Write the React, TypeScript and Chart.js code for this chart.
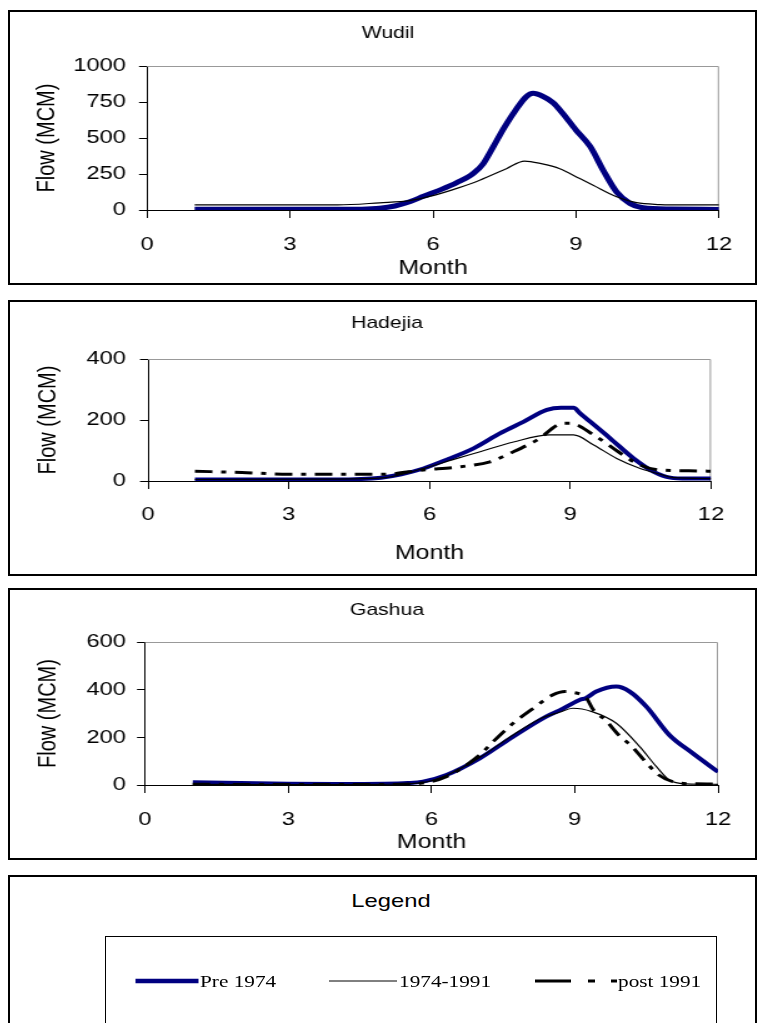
import React, { useEffect, useRef } from "react";
import { Chart, registerables } from "chart.js";

Chart.register(...registerables);

// ---------------- data ----------------
const xTickLabels = [0, 3, 6, 9, 12];
const seriesNames = ["Pre 1974", "1974-1991", "post 1991"];

// Wudil
const wudilPreMonth = [1, 2, 3, 4, 4.5, 4.88, 5.2, 5.51, 5.8, 6.14, 6.5, 6.84, 7.05, 7.26, 7.5, 7.75, 7.95, 8.1, 8.3, 8.52, 8.7, 9.0, 9.3, 9.57, 9.85, 10.13, 10.41, 11, 12];
const wudilPreFlow = [5, 5, 5, 5, 6, 12, 28, 57, 95, 138, 190, 253, 320, 437, 575, 701, 785, 810, 790, 745, 680, 555, 440, 276, 126, 46, 15, 7, 4];
const wudilMidMonth = [1, 2, 3, 4, 4.88, 5.51, 6.04, 6.5, 6.98, 7.54, 7.92, 8.27, 8.66, 9.08, 9.36, 9.85, 10.27, 10.76, 11, 12];
const wudilMidFlow = [35, 35, 35, 35, 50, 65, 103, 150, 207, 287, 340, 322, 287, 218, 172, 92, 51, 38, 36, 35];

// Hadejia
const hadejiaPreMonth = [1, 2, 3, 4, 4.97, 5.4, 5.87, 6.4, 6.94, 7.5, 8.0, 8.5, 8.8, 9.07, 9.21, 9.85, 10.35, 10.78, 11.13, 11.5, 12];
const hadejiaPreFlow = [5, 5, 5, 5, 11, 22, 41, 72, 107, 156, 194, 233, 240, 240, 222, 140, 74, 30, 11, 8, 8];
const hadejiaMidMonth = [1, 4, 5, 5.87, 6.5, 7.08, 7.79, 8.57, 9.07, 9.5, 9.99, 10.49, 10.92, 11.2, 12];
const hadejiaMidFlow = [5, 6, 10, 41, 70, 96, 128, 151, 151, 118, 74, 41, 22, 11, 8];
const hadejiaPostMonth = [1, 2, 3, 4, 5, 5.87, 6.67, 7.29, 7.79, 8.29, 8.86, 9.0, 9.5, 10.07, 10.49, 10.92, 11.7, 12];
const hadejiaPostFlow = [32, 28, 22, 22, 22, 36, 47, 63, 96, 134, 189, 189, 151, 91, 52, 36, 33, 32];

// Gashua
const gashuaPreMonth = [1, 2, 3, 4, 5, 5.5, 5.82, 6.31, 7.01, 7.71, 8.4, 8.68, 9.1, 9.24, 9.45, 9.87, 10.15, 10.5, 10.98, 11.47, 12];
const gashuaPreFlow = [12, 8, 5, 4, 5, 8, 14, 42, 112, 203, 287, 313, 357, 365, 392, 413, 392, 329, 210, 133, 55];
const gashuaMidMonth = [1, 3, 5, 5.8, 6.31, 7.01, 7.71, 8.3, 8.68, 8.96, 9.36, 9.87, 10.36, 10.71, 10.98, 11.33, 12];
const gashuaMidFlow = [3, 2, 3, 10, 40, 115, 210, 280, 305, 322, 308, 259, 161, 77, 21, 5, 3];
const gashuaPostMonth = [1, 3, 5, 5.8, 6.31, 7.01, 7.29, 7.71, 8.13, 8.54, 8.8, 8.93, 9.24, 9.39, 9.64, 9.92, 10.2, 10.48, 10.76, 11.05, 11.47, 12];
const gashuaPostFlow = [3, 2, 2, 8, 35, 126, 182, 259, 322, 378, 392, 390, 365, 315, 273, 210, 161, 98, 42, 14, 5, 4];

// ---------------- styling ----------------
const STRETCH = 1.25;
const SANS = 'Arial, "Liberation Sans", sans-serif';
const SERIF = '"Times New Roman", "Liberation Serif", serif';
const NAVY = "#000080";
const PANEL_LEFT = 8;
const PANEL_WIDTH = 750;
const TICK_FONT = 19;
const AXIS_TITLE_FONT = 20;

type Series = { month: number[]; flow: number[]; kind: number };

type PanelSpec = {
  title: string;
  top: number;
  height: number;
  area: { L: number; R: number; T: number; B: number };
  titleY: number;
  titleX: number;
  yMax: number;
  yStep: number;
  xTickY: number;
  xTitleY: number;
  yTitleX: number;
  series: Series[];
};

const styleFor = (kind: number, thick: number) => {
  if (kind === 0) return { borderColor: NAVY, borderWidth: thick, borderDash: [] as number[] };
  if (kind === 1) return { borderColor: "#000", borderWidth: 1.2, borderDash: [] as number[] };
  return { borderColor: "#000", borderWidth: 3, borderDash: [14, 7, 4, 7] };
};

function Panel({ spec, thick }: { spec: PanelSpec; thick: number }) {
  const ref = useRef<HTMLCanvasElement | null>(null);
  const cw = Math.round(PANEL_WIDTH / STRETCH);
  useEffect(() => {
    if (!ref.current) return;
    const toX = (px: number) => (px - PANEL_LEFT) / STRETCH;
    const { area } = spec;
    const yWidth = toX(area.L);
    const padRight = cw - toX(area.R);
    const padTop = area.T - spec.top;
    const xHeight = spec.top + spec.height - area.B;
    const yTickLen = 6.4;
    const yTickPad = (area.L - 126) / STRETCH - yTickLen;
    const xTickLen = 8;
    const xTickPad = spec.xTickY - area.B - xTickLen - (TICK_FONT * 1.2) / 2;
    const yTitlePad = toX(spec.yTitleX) - (AXIS_TITLE_FONT * 1.2) / 2;
    const xTitlePad = spec.top + spec.height - spec.xTitleY - (AXIS_TITLE_FONT * 1.2) / 2;

    const datasets = [...spec.series]
      .sort((a, b) => b.kind - a.kind)
      .map((s) => ({
        label: seriesNames[s.kind],
        data: s.month.map((m, i) => ({ x: m, y: s.flow[i] })),
        ...styleFor(s.kind, thick),
        pointRadius: 0,
        fill: false,
        cubicInterpolationMode: "monotone" as const,
        borderJoinStyle: "round" as const,
      }));

    const framePlugin = {
      id: "frame",
      beforeDatasetsDraw(chart: any) {
        const { ctx, chartArea } = chart;
        ctx.save();
        ctx.strokeStyle = "#999";
        ctx.lineWidth = 1;
        ctx.beginPath();
        ctx.moveTo(chartArea.left, chartArea.top + 0.5);
        ctx.lineTo(chartArea.right - 0.5, chartArea.top + 0.5);
        ctx.lineTo(chartArea.right - 0.5, chartArea.bottom);
        ctx.stroke();
        ctx.restore();
      },
      afterDraw(chart: any) {
        const { ctx } = chart;
        ctx.save();
        ctx.fillStyle = "#000";
        ctx.font = `17px ${SANS}`;
        ctx.textAlign = "center";
        ctx.textBaseline = "middle";
        ctx.fillText(spec.title, toX(spec.titleX), spec.titleY - spec.top);
        ctx.restore();
      },
    };

    const chart = new Chart(ref.current, {
      type: "line",
      data: { datasets },
      plugins: [framePlugin],
      options: {
        responsive: false,
        animation: false,
        devicePixelRatio: 1,
        layout: { padding: { left: 0, top: padTop, right: padRight, bottom: 0 } },
        plugins: {
          legend: { display: false },
          title: { display: false },
          tooltip: { enabled: false },
        },
        scales: {
          x: {
            type: "linear",
            min: 0,
            max: 12,
            afterBuildTicks: (scale: any) => {
              scale.ticks = xTickLabels.map((v) => ({ value: v }));
            },
            ticks: {
              font: { size: TICK_FONT, family: SANS },
              color: "#000",
              padding: xTickPad,
              maxRotation: 0,
              autoSkip: false,
              callback: (v: any) => String(v),
            },
            grid: {
              display: true,
              drawOnChartArea: false,
              drawTicks: true,
              tickLength: xTickLen,
              color: "#000",
            },
            border: { display: true, color: "#000", width: 1 },
            title: {
              display: true,
              text: "Month",
              color: "#000",
              font: { size: AXIS_TITLE_FONT, family: SANS },
              padding: { top: 0, bottom: xTitlePad },
            },
            afterFit: (scale: any) => {
              scale.height = xHeight;
            },
          },
          y: {
            type: "linear",
            min: 0,
            max: spec.yMax,
            ticks: {
              stepSize: spec.yStep,
              font: { size: TICK_FONT, family: SANS },
              color: "#000",
              padding: yTickPad,
              callback: (v: any) => String(v),
            },
            grid: {
              display: true,
              drawOnChartArea: false,
              drawTicks: true,
              tickLength: yTickLen,
              color: "#000",
            },
            border: { display: true, color: "#000", width: 1 },
            title: {
              display: true,
              text: "Flow (MCM)",
              color: "#000",
              font: { size: AXIS_TITLE_FONT, family: SANS },
              padding: { top: yTitlePad, bottom: 0 },
            },
            afterFit: (scale: any) => {
              scale.width = yWidth;
            },
          },
        },
      },
    } as any);
    return () => chart.destroy();
  }, [spec, thick, cw]);

  return (
    <>
      <div
        style={{
          position: "absolute",
          left: PANEL_LEFT,
          top: spec.top,
          width: 749,
          height: spec.height,
          border: "2px solid #000",
          boxSizing: "border-box",
        }}
      />
      <canvas
        ref={ref}
        width={cw}
        height={spec.height}
        style={{
          position: "absolute",
          left: PANEL_LEFT,
          top: spec.top,
          width: PANEL_WIDTH,
          height: spec.height,
        }}
      />
    </>
  );
}

const panels: PanelSpec[] = [
  {
    title: "Wudil",
    top: 10,
    height: 275,
    area: { L: 147, R: 719, T: 66, B: 210 },
    titleY: 33,
    titleX: 388,
    yMax: 1000,
    yStep: 250,
    xTickY: 245,
    xTitleY: 268,
    yTitleX: 47,
    series: [
      { month: wudilPreMonth, flow: wudilPreFlow, kind: 0 },
      { month: wudilMidMonth, flow: wudilMidFlow, kind: 1 },
    ],
  },
  {
    title: "Hadejia",
    top: 300,
    height: 276,
    area: { L: 148, R: 711, T: 359, B: 481 },
    titleY: 323,
    titleX: 387,
    yMax: 400,
    yStep: 200,
    xTickY: 515,
    xTitleY: 553,
    yTitleX: 48,
    series: [
      { month: hadejiaPreMonth, flow: hadejiaPreFlow, kind: 0 },
      { month: hadejiaMidMonth, flow: hadejiaMidFlow, kind: 1 },
      { month: hadejiaPostMonth, flow: hadejiaPostFlow, kind: 2 },
    ],
  },
  {
    title: "Gashua",
    top: 588,
    height: 272,
    area: { L: 145, R: 718, T: 642, B: 785 },
    titleY: 610,
    titleX: 387,
    yMax: 600,
    yStep: 200,
    xTickY: 820,
    xTitleY: 842,
    yTitleX: 48,
    series: [
      { month: gashuaPreMonth, flow: gashuaPreFlow, kind: 0 },
      { month: gashuaMidMonth, flow: gashuaMidFlow, kind: 1 },
      { month: gashuaPostMonth, flow: gashuaPostFlow, kind: 2 },
    ],
  },
];

const stretched = (left: number, top: number, text: string, font: string, center = false): React.ReactElement => (
  <div
    style={{
      position: "absolute",
      left,
      top,
      transform: `translate(${center ? "-50%" : "0"}, -50%) scaleX(${STRETCH})`,
      transformOrigin: center ? "center center" : "left center",
      font,
      whiteSpace: "nowrap",
      lineHeight: 1,
      color: "#000",
    }}
  >
    {text}
  </div>
);

function LegendPanel() {
  const y = 981;
  return (
    <>
      <div
        style={{
          position: "absolute",
          left: PANEL_LEFT,
          top: 875,
          width: 749,
          height: 200,
          border: "2px solid #000",
          boxSizing: "border-box",
        }}
      />
      {stretched(391, 900, "Legend", `19px ${SANS}`, true)}
      <div
        style={{
          position: "absolute",
          left: 105,
          top: 936,
          width: 612,
          height: 150,
          border: "1px solid #000",
          boxSizing: "border-box",
        }}
      />
      <svg style={{ position: "absolute", left: 0, top: 0 }} width={759} height={1023}>
        <line x1={135.5} y1={y} x2={198.5} y2={y} stroke={NAVY} strokeWidth={4.5} />
        <line x1={329} y1={y} x2={397} y2={y} stroke="#000" strokeWidth={1} />
        <line x1={535} y1={y} x2={571} y2={y} stroke="#000" strokeWidth={3} />
        <line x1={588} y1={y} x2={595} y2={y} stroke="#000" strokeWidth={3} />
        <line x1={611} y1={y} x2={617} y2={y} stroke="#000" strokeWidth={3} />
      </svg>
      {stretched(200, y, seriesNames[0], `17px ${SERIF}`)}
      {stretched(399, y, seriesNames[1], `17px ${SERIF}`)}
      {stretched(618, y, seriesNames[2], `17px ${SERIF}`)}
    </>
  );
}

export default function App() {
  return (
    <div
      style={{
        position: "absolute",
        left: 0,
        top: 0,
        width: 759,
        height: 1023,
        overflow: "hidden",
        background: "#fff",
      }}
    >
      {panels.map((p, i) => (
        <Panel key={p.title} spec={p} thick={i === 0 ? 5 : 4} />
      ))}
      <LegendPanel />
    </div>
  );
}
